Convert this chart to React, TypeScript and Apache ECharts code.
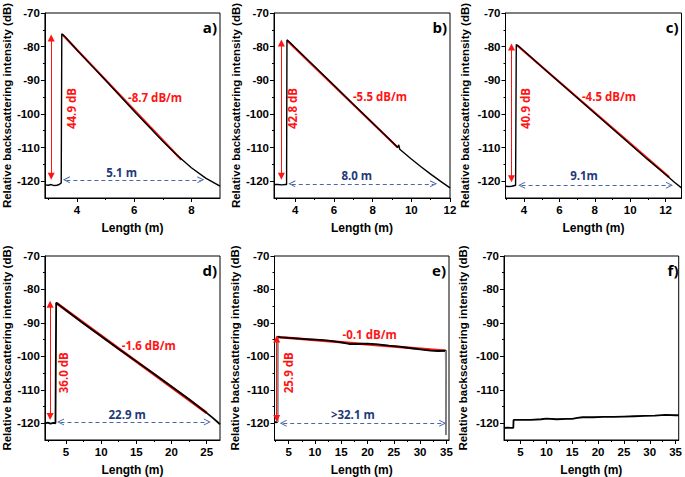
import React, { useEffect, useRef } from 'react';
import * as echarts from 'echarts';

// ---------- shared tick labels ----------
const yTicks = [-120, -110, -100, -90, -80, -70];
const yMinorTicks = [-115, -105, -95, -85, -75];

// ---------- (a) ----------
const lengthA = [2.88, 3.0, 3.1, 3.2, 3.3, 3.38, 3.45, 3.47, 3.6, 4.0, 4.5, 5.0, 5.5, 6.0, 6.5, 7.0, 7.5, 8.0, 8.5, 9.0];
const intensityA = [-121.1, -121.2, -121.0, -121.3, -121.2, -121.0, -120.5, -76.2, -77.2, -81.0, -85.5, -90.0, -94.6, -99.2, -103.7, -108.1, -112.3, -116.0, -119.1, -121.5];
const fitLengthA = [3.5, 7.65];
const fitIntensityA = [-76.5, -113.6];

// ---------- (b) ----------
const lengthB = [2.9, 3.1, 3.3, 3.5, 3.55, 3.57, 3.7, 4, 5, 6, 7, 8, 9, 9.3, 9.35, 9.4, 10, 10.5, 11, 11.5, 12];
const intensityB = [-121.0, -121.0, -121.1, -121.0, -121.0, -78.0, -78.6, -80.3, -85.9, -91.5, -97.1, -102.7, -108.3, -110.0, -109.2, -110.5, -113.4, -115.7, -117.9, -120.0, -122.0];
const fitLengthB = [3.6, 9.3];
const fitIntensityB = [-78.3, -110.0];

// ---------- (c) ----------
const lengthC = [2.95, 3.1, 3.3, 3.52, 3.56, 3.7, 4, 5, 6, 7, 8, 9, 10, 11, 12, 12.5, 12.9];
const intensityC = [-121.5, -121.6, -121.5, -121.2, -79.4, -79.9, -81.3, -86.0, -90.6, -95.2, -99.8, -104.4, -109.0, -113.6, -118.0, -120.3, -122.0];
const fitLengthC = [3.6, 12.2];
const fitIntensityC = [-79.6, -118.8];

// ---------- (d) ----------
const lengthD = [2, 2.4, 2.8, 3.2, 3.5, 3.6, 4, 5, 7.5, 10, 12.5, 15, 17.5, 20, 22.5, 25, 26, 26.9];
const intensityD = [-120.0, -119.8, -120.1, -119.9, -120.0, -84.0, -84.6, -86.2, -90.2, -94.0, -97.8, -101.5, -105.2, -109.0, -112.8, -116.9, -118.6, -120.3];
const fitLengthD = [3.6, 25];
const fitIntensityD = [-84.0, -116.9];

// ---------- (e) ----------
const lengthE = [2.3, 2.6, 2.85, 2.86, 3.5, 5, 7, 9, 11, 13, 15, 16.5, 18, 20, 22, 24, 26, 28, 30, 32, 33.5, 34.9, 34.95];
const intensityE = [-119.6, -119.7, -119.6, -94.2, -94.3, -94.5, -94.7, -94.9, -95.1, -95.4, -95.8, -96.3, -96.3, -96.2, -96.4, -96.8, -97.1, -97.5, -97.9, -98.3, -98.4, -98.3, -123.5];
const fitLengthE = [2.9, 34.8];
const fitIntensityE = [-94.2, -98.3];
const stepLengthE = [2.85, 2.86];
const stepIntensityE = [-119.6, -94.2];
const dropLengthE = [34.9, 34.95];
const dropIntensityE = [-98.3, -123.5];

// ---------- (f) ----------
const lengthF = [1.8, 2.5, 3.0, 3.6, 3.65, 5, 7, 9, 10, 12, 14, 15, 16, 17, 19, 21, 23, 25, 27, 29, 31, 33, 35, 35.6];
const intensityF = [-121.4, -121.3, -121.4, -121.4, -119.0, -119.0, -119.0, -118.8, -118.6, -118.8, -118.7, -118.7, -118.4, -118.2, -118.2, -118.1, -118.1, -118.0, -117.9, -117.8, -117.7, -117.5, -117.6, -117.6];

// ---------- annotation texts ----------
const panelLetters = ['a)', 'b)', 'c)', 'd)', 'e)', 'f)'];
const dropTexts = ['44.9 dB', '42.8 dB', '40.9 dB', '36.0 dB', '25.9 dB'];
const slopeTexts = ['-8.7 dB/m', '-5.5 dB/m', '-4.5 dB/m', '-1.6 dB/m', '-0.1 dB/m'];
const spanTexts = ['5.1 m', '8.0 m', '9.1m', '22.9 m', '>32.1 m'];

const AXIS_FAMILY = '"Liberation Sans", Arial, sans-serif';
const NOTE_FAMILY = '"Open Sans", "Liberation Sans", sans-serif';
const RED = '#ff1414';
const NAVY = '#1f3a78';
const DASH = '#4a68a8';
const CHEVRON = 'path://M5,0 L10,10 L8.5,10 L5,3 L1.5,10 L0,10 Z';

const zip = (xs: number[], ys: number[]) => xs.map((x, k) => [x, ys[k]]);

type Panel = {
  left: number; top: number; width: number; height: number; yGap: number;
  xMin: number; xMax: number; xTicks: number[]; xMinor: number[];
  length: number[]; intensity: number[]; lineWidth: number;
  fitLength?: number[]; fitIntensity?: number[];
  note?: {
    dropX: number; dropFrom: number; dropTo: number; dropAt: number[];
    slopeAt: number[];
    spanY: number; spanFrom: number; spanTo: number; spanAt: number[];
  };
};

const panels: Panel[] = [
  {
    left: 43, top: 13, width: 177, height: 185, yGap: 30.5,
    xMin: 2.88, xMax: 9, xTicks: [4, 6, 8], xMinor: [3, 5, 7],
    length: lengthA, intensity: intensityA, lineWidth: 1.4, fitLength: fitLengthA, fitIntensity: fitIntensityA,
    note: { dropX: 3.1, dropFrom: -118.5, dropTo: -77.4, dropAt: [3.8, -98.4], slopeAt: [6.73, -95.2], spanY: -119.6, spanFrom: 3.63, spanTo: 8.33, spanAt: [5.56, -117.5] },
  },
  {
    left: 274, top: 13, width: 176, height: 185, yGap: 32,
    xMin: 2.9, xMax: 12, xTicks: [4, 6, 8, 10, 12], xMinor: [3, 5, 7, 9, 11],
    length: lengthB, intensity: intensityB, lineWidth: 1.4, fitLength: fitLengthB, fitIntensity: fitIntensityB,
    note: { dropX: 3.28, dropFrom: -118.5, dropTo: -78.9, dropAt: [3.88, -98.4], slopeAt: [8.38, -94.8], spanY: -120.8, spanFrom: 3.82, spanTo: 11.15, spanAt: [7.18, -118.2] },
  },
  {
    left: 505.5, top: 13, width: 176, height: 185, yGap: 35,
    xMin: 2.95, xMax: 12.9, xTicks: [4, 6, 8, 10, 12], xMinor: [3, 5, 7, 9, 11],
    length: lengthC, intensity: intensityC, lineWidth: 1.4, fitLength: fitLengthC, fitIntensity: fitIntensityC,
    note: { dropX: 3.29, dropFrom: -119.3, dropTo: -80.1, dropAt: [4.06, -98.4], slopeAt: [8.8, -94.9], spanY: -121.2, spanFrom: 3.86, spanTo: 12.22, spanAt: [7.39, -118.2] },
  },
  {
    left: 44, top: 256, width: 176, height: 185, yGap: 31,
    xMin: 2, xMax: 26.9, xTicks: [5, 10, 15, 20, 25], xMinor: [2.5, 7.5, 12.5, 17.5, 22.5],
    length: lengthD, intensity: intensityD, lineWidth: 1.8, fitLength: fitLengthD, fitIntensity: fitIntensityD,
    note: { dropX: 2.74, dropFrom: -118, dropTo: -84.4, dropAt: [4.58, -104.9], slopeAt: [16.77, -96.9], spanY: -119.6, spanFrom: 4.22, spanTo: 25.1, spanAt: [13.7, -117.3] },
  },
  {
    left: 274.5, top: 256, width: 174.5, height: 185, yGap: 33.5,
    xMin: 2.3, xMax: 35.5, xTicks: [5, 10, 15, 20, 25, 30, 35], xMinor: [2.5, 7.5, 12.5, 17.5, 22.5, 27.5, 32.5],
    length: lengthE, intensity: intensityE, lineWidth: 1.8, fitLength: fitLengthE, fitIntensity: fitIntensityE,
    note: { dropX: 2.72, dropFrom: -118.6, dropTo: -94.8, dropAt: [4.93, -104.9], slopeAt: [20.4, -93.6], spanY: -120, spanFrom: 3.96, spanTo: 34.3, spanAt: [17.2, -117.5] },
  },
  {
    left: 504, top: 256, width: 177.5, height: 185, yGap: 35,
    xMin: 1.8, xMax: 35.6, xTicks: [5, 10, 15, 20, 25, 30, 35], xMinor: [2.5, 7.5, 12.5, 17.5, 22.5, 27.5, 32.5],
    length: lengthF, intensity: intensityF, lineWidth: 1.8,
  },
];

function buildOption() {
  const grid: any[] = [];
  const xAxis: any[] = [];
  const yAxis: any[] = [];
  const series: any[] = [];
  const graphic: any[] = [];
  const axisText = { fontFamily: AXIS_FAMILY, fontWeight: 'bold', color: '#000' };

  panels.forEach((p, i) => {
    grid.push({ left: p.left, top: p.top, width: p.width, height: p.height, show: true, borderColor: '#000', borderWidth: 1 });
    xAxis.push({
      type: 'value', gridIndex: i, min: p.xMin, max: p.xMax, position: 'bottom',
      name: 'Length (m)', nameLocation: 'middle', nameGap: 24,
      nameTextStyle: { ...axisText, fontSize: 12 },
      axisLine: { show: true, onZero: false, lineStyle: { color: '#000', width: 1 } },
      axisTick: { show: true, customValues: p.xTicks, length: 4, lineStyle: { color: '#000', width: 1 } },
      axisLabel: { show: true, customValues: p.xTicks, margin: 6, fontSize: 11.5, ...axisText },
      splitLine: { show: false },
    });
    xAxis.push({
      type: 'value', gridIndex: i, min: p.xMin, max: p.xMax, position: 'bottom',
      axisLine: { show: false, onZero: false },
      axisTick: { show: true, customValues: p.xMinor, length: 2, lineStyle: { color: '#000', width: 1 } },
      axisLabel: { show: false }, splitLine: { show: false },
    });
    yAxis.push({
      type: 'value', gridIndex: i, min: -125, max: -70, position: 'left',
      name: 'Relative backscattering intensity (dB)', nameLocation: 'middle', nameGap: p.yGap,
      nameTextStyle: { ...axisText, fontSize: 11.5 },
      axisLine: { show: true, onZero: false, lineStyle: { color: '#000', width: 1 } },
      axisTick: { show: true, customValues: yTicks, length: 4, lineStyle: { color: '#000', width: 1 } },
      axisLabel: { show: true, customValues: yTicks, margin: 5, fontSize: 11.5, ...axisText },
      splitLine: { show: false },
    });
    yAxis.push({
      type: 'value', gridIndex: i, min: -125, max: -70, position: 'left',
      axisLine: { show: false, onZero: false },
      axisTick: { show: true, customValues: yMinorTicks, length: 2, lineStyle: { color: '#000', width: 1 } },
      axisLabel: { show: false }, splitLine: { show: false },
    });

    const xi = 2 * i;
    const n = p.note;
    const k = i;

    if (p.fitLength && p.fitIntensity) {
      series.push({
        type: 'line', xAxisIndex: xi, yAxisIndex: xi, data: zip(p.fitLength, p.fitIntensity),
        showSymbol: false, symbol: 'none', lineStyle: { color: RED, width: p.lineWidth + 0.8 }, z: 2, silent: true,
        markLine: n ? {
          silent: true, symbol: ['triangle', 'triangle'], symbolSize: 7,
          label: { show: false },
          lineStyle: { color: RED, width: 1, type: 'solid' },
          itemStyle: { color: RED },
          data: [[{ coord: [n.dropX, n.dropFrom] }, { coord: [n.dropX, n.dropTo] }]],
        } : undefined,
      });
    }

    series.push({
      type: 'line', xAxisIndex: xi, yAxisIndex: xi, data: zip(p.length, p.intensity),
      showSymbol: false, symbol: 'none', lineStyle: { color: '#000', width: p.lineWidth }, z: 3, silent: true,
      markLine: n ? {
        silent: true, symbol: [CHEVRON, CHEVRON], symbolSize: 7,
        label: { show: false },
        lineStyle: { color: DASH, width: 1, type: [4, 3] },
        itemStyle: { color: DASH },
        data: [[{ coord: [n.spanFrom, n.spanY] }, { coord: [n.spanTo, n.spanY] }]],
      } : undefined,
      markPoint: n ? {
        silent: true, symbol: 'rect', symbolSize: 1, itemStyle: { color: 'rgba(0,0,0,0)' },
        label: { show: true, position: 'inside', fontFamily: NOTE_FAMILY, fontWeight: 'bold', fontSize: 11.5 },
        data: [
          { coord: n.dropAt, value: 0, label: { formatter: dropTexts[k], rotate: 90, color: RED } },
          { coord: n.slopeAt, value: 0, label: { formatter: slopeTexts[k], color: RED } },
          { coord: n.spanAt, value: 0, label: { formatter: spanTexts[k], color: NAVY } },
        ],
      } : undefined,
    });

    graphic.push({
      type: 'text', x: p.left + p.width - 3, y: p.top + 6, z: 10,
      style: { text: panelLetters[i], font: 'bold 15px "Open Sans", sans-serif', fill: '#000', align: 'right', verticalAlign: 'top', textAlign: 'right', textVerticalAlign: 'top' },
    });
  });

  // gray vertical steps of panel (e)
  [[stepLengthE, stepIntensityE], [dropLengthE, dropIntensityE]].forEach(([xs, ys]) => {
    series.push({
      type: 'line', xAxisIndex: 8, yAxisIndex: 8, data: zip(xs, ys),
      showSymbol: false, symbol: 'none', lineStyle: { color: '#8a8a8a', width: 1.8 }, z: 4, silent: true,
    });
  });

  return { animation: false, backgroundColor: '#fff', grid, xAxis, yAxis, series, graphic };
}

export default function App() {
  const ref = useRef<HTMLDivElement>(null);
  useEffect(() => {
    if (!ref.current) return;
    const chart = echarts.init(ref.current, null, { renderer: 'svg' });
    chart.setOption(buildOption() as any);
    return () => chart.dispose();
  }, []);
  return <div ref={ref} style={{ position: 'fixed', left: 0, top: 0, width: 685, height: 477, background: '#fff' }} />;
}
